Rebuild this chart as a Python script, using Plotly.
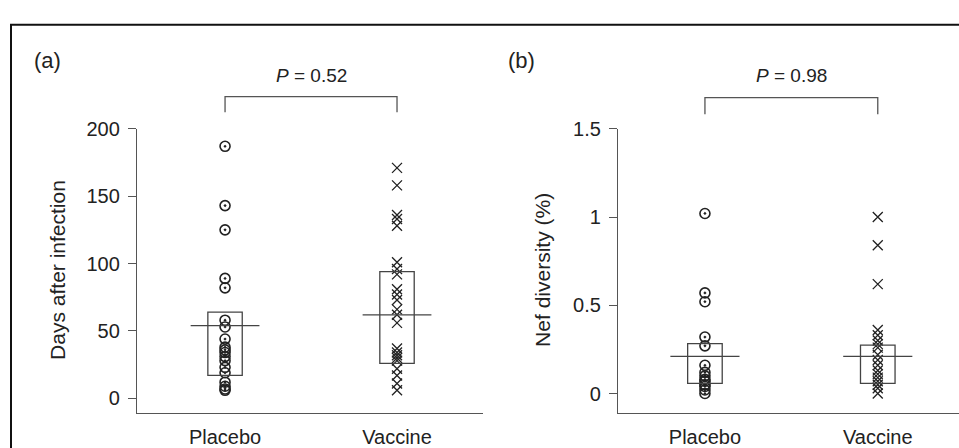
import plotly.graph_objects as go

# ---------------- data ----------------
groups = ["Placebo", "Vaccine"]
group_pos = [1, 2]

placebo_days = [187, 143, 125, 89, 82, 58, 53, 44, 38, 36, 34, 31, 28, 23, 19, 12, 9, 7, 6]
vaccine_days = [171, 158, 136, 133, 128, 101, 96, 92, 81, 77, 73, 66, 62, 56, 37, 34, 32, 30,
                28, 22, 17, 11, 6]
days_box_low = [17, 26]
days_box_high = [64, 94]
days_median = [54, 62]

placebo_nef = [1.02, 0.57, 0.52, 0.32, 0.27, 0.16, 0.12, 0.10, 0.08, 0.07, 0.05, 0.04, 0.02, 0.0]
vaccine_nef = [1.0, 0.84, 0.62, 0.36, 0.33, 0.30, 0.28, 0.26, 0.22, 0.19, 0.16, 0.13, 0.11,
               0.09, 0.07, 0.05, 0.03, 0.0]
nef_box_low = [0.057, 0.057]
nef_box_high = [0.283, 0.274]
nef_median = [0.21, 0.21]

p_values = ["0.52", "0.98"]
panel_labels = ["(a)", "(b)"]
y_titles = ["Days after infection", "Nef diversity (%)"]
days_ticks = [0, 50, 100, 150, 200]
nef_ticks = [0, 0.5, 1, 1.5]
nef_ticktext = ["0", "0.5", "1", "1.5"]

# ---------------- style ----------------
FONT = "Liberation Sans, Arial, sans-serif"
TXT = "#222222"
AX = "#555555"
W, H = 959, 448

fig = go.Figure()

mk_circle = dict(symbol="circle-open-dot", size=10, color="#222222", line=dict(width=1.6, color="#222222"))
mk_x = dict(symbol="x-thin-open", size=10, color="#222222", line=dict(width=1.3, color="#222222"))

fig.add_trace(go.Scatter(x=[group_pos[0]] * len(placebo_days), y=placebo_days, mode="markers",
                         marker=mk_circle, xaxis="x", yaxis="y", showlegend=False))
fig.add_trace(go.Scatter(x=[group_pos[1]] * len(vaccine_days), y=vaccine_days, mode="markers",
                         marker=mk_x, xaxis="x", yaxis="y", showlegend=False))
fig.add_trace(go.Scatter(x=[group_pos[0]] * len(placebo_nef), y=placebo_nef, mode="markers",
                         marker=mk_circle, xaxis="x2", yaxis="y2", showlegend=False))
fig.add_trace(go.Scatter(x=[group_pos[1]] * len(vaccine_nef), y=vaccine_nef, mode="markers",
                         marker=mk_x, xaxis="x2", yaxis="y2", showlegend=False))

shapes = []
def add_boxes(xref, yref, lows, highs, meds):
    for pos, lo, hi, md in zip(group_pos, lows, highs, meds):
        shapes.append(dict(type="rect", xref=xref, yref=yref, x0=pos - 0.1, x1=pos + 0.1,
                           y0=lo, y1=hi, line=dict(color="#444444", width=1.3)))
        shapes.append(dict(type="line", xref=xref, yref=yref, x0=pos - 0.2, x1=pos + 0.2,
                           y0=md, y1=md, line=dict(color="#444444", width=1.3)))

add_boxes("x", "y", days_box_low, days_box_high, days_median)
add_boxes("x2", "y2", nef_box_low, nef_box_high, nef_median)

# significance brackets
for xref, ytop, ybot in [("x", 1 - 88 / H, 1 - 104 / H), ("x2", 1 - 89 / H, 1 - 106 / H)]:
    shapes.append(dict(type="path", xref=xref, yref="paper",
                       path=f"M {group_pos[0]},{ybot} L {group_pos[0]},{ytop} L {group_pos[1]},{ytop} L {group_pos[1]},{ybot}",
                       line=dict(color="#555555", width=1.3)))

# outer frame
shapes.append(dict(type="rect", xref="paper", yref="paper", x0=11 / W, x1=1.1, y0=-0.1, y1=1 - 14 / H,
                   line=dict(color="#111111", width=2)))

annotations = []
for xref, pv in [("x", p_values[0]), ("x2", p_values[1])]:
    annotations.append(dict(xref=xref, yref="paper", x=1.5, y=1 - 66 / H, text=f"<i>P</i> = {pv}",
                            showarrow=False, font=dict(family=FONT, size=19, color=TXT),
                            xanchor="center", yanchor="middle"))
for xp, lab in [(47, panel_labels[0]), (521, panel_labels[1])]:
    annotations.append(dict(xref="paper", yref="paper", x=xp / W, y=1 - 51 / H, text=lab,
                            showarrow=False, font=dict(family=FONT, size=22, color=TXT),
                            xanchor="center", yanchor="middle"))
for xp, t in [(58, y_titles[0]), (543, y_titles[1])]:
    annotations.append(dict(xref="paper", yref="paper", x=xp / W, y=1 - 266 / H, text=t,
                            textangle=-90, showarrow=False, font=dict(family=FONT, size=21, color=TXT),
                            xanchor="center", yanchor="middle"))

ydom = [1 - 413 / H, 1 - 121 / H]
common_x = dict(tickmode="array", tickvals=group_pos, ticktext=groups, ticks="", showline=True,
                linecolor=AX, linewidth=1.3, showgrid=False, zeroline=False,
                tickfont=dict(family=FONT, size=20, color=TXT), ticklabelstandoff=6)
common_y = dict(ticks="outside", ticklen=8, tickcolor=AX, tickwidth=1.2, showline=True,
                linecolor=AX, linewidth=1.3, showgrid=False, zeroline=False,
                tickfont=dict(family=FONT, size=20, color=TXT), ticklabelstandoff=4)

fig.update_layout(
    width=W, height=H, margin=dict(l=0, r=0, t=0, b=0),
    paper_bgcolor="white", plot_bgcolor="white",
    xaxis=dict(domain=[137 / W, 483 / W], range=[0.488, 2.5], anchor="y", **common_x),
    yaxis=dict(domain=ydom, range=[-10.8, 200], anchor="x", tickvals=days_ticks, **common_y),
    xaxis2=dict(domain=[618 / W, 1.0], range=[0.497, 2.47], anchor="y2", **common_x),
    yaxis2=dict(domain=ydom, range=[-0.11, 1.5], anchor="x2", tickvals=nef_ticks,
                ticktext=nef_ticktext, **common_y),
    shapes=shapes, annotations=annotations,
)

fig.write_html("out.html")
